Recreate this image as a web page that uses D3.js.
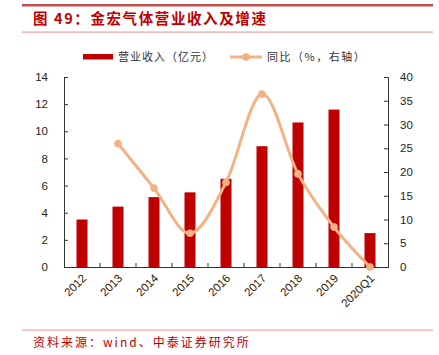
<!DOCTYPE html>
<html><head><meta charset="utf-8">
<script src="https://cdn.jsdelivr.net/npm/d3@7"></script>
<style>body{margin:0;background:#fff}svg{display:block}</style>
</head><body>
<script>
const categories = ["2012","2013","2014","2015","2016","2017","2018","2019","2020Q1"];
const revenue = [3.5, 4.45, 5.15, 5.5, 6.5, 8.9, 10.65, 11.6, 2.5];
const yoy = [null, 26.0, 16.6, 7.1, 17.8, 36.4, 19.6, 8.4, 0.0];
const leftTicks = [0,2,4,6,8,10,12,14];
const rightTicks = [0,5,10,15,20,25,30,35,40];
const title = "图 49：金宏气体营业收入及增速";
const source = "资料来源：wind、中泰证券研究所";
const legendLabels = ["营业收入（亿元）","同比（%，右轴）"];

const W=439,H=355;
const svg=d3.select("body").append("svg").attr("width",W).attr("height",H);
const cjk="'Noto Sans CJK SC','Noto Sans',sans-serif";
const num="'Liberation Sans','DejaVu Sans',sans-serif";
const red="#C00000", peach="#F4B183";

// header
svg.append("rect").attr("x",22).attr("y",4).attr("width",411).attr("height",2.5).attr("fill","#C0504D");
svg.append("text").attr("x",33).attr("y",24).attr("font-family",cjk).attr("font-weight","bold")
  .attr("font-size",14.5).attr("letter-spacing",1.6).attr("fill","#C00000").text(title);
svg.append("rect").attr("x",22).attr("y",31.5).attr("width",411).attr("height",1.2).attr("fill","#E6A3A3");
// footer
svg.append("rect").attr("x",22).attr("y",329.5).attr("width",411).attr("height",1.2).attr("fill","#EBA7A7");
svg.append("text").attr("x",33).attr("y",347).attr("font-family",cjk).attr("letter-spacing",2)
  .attr("font-size",12).attr("fill","#C00000").text(source);

const L=64,R=388,T=77,B=267;
const x=d3.scaleBand().domain(categories).range([L,R]);
const yL=d3.scaleLinear().domain([0,14]).range([B,T]);
const yR=d3.scaleLinear().domain([0,40]).range([B,T]);
const bw=11;

svg.append("g").selectAll("rect").data(categories).join("rect")
  .attr("x",d=>x(d)+x.bandwidth()/2-bw/2).attr("width",bw)
  .attr("y",(d,i)=>yL(revenue[i])).attr("height",(d,i)=>B-yL(revenue[i]))
  .attr("fill",red);

// axes
const axL=svg.append("g").attr("transform",`translate(${L},0)`)
  .call(d3.axisLeft(yL).tickValues(leftTicks).tickSize(-4).tickPadding(16));
const axR=svg.append("g").attr("transform",`translate(${R},0)`)
  .call(d3.axisRight(yR).tickValues(rightTicks).tickSize(-4).tickPadding(12));
const axB=svg.append("g").attr("transform",`translate(0,${B})`)
  .call(d3.axisBottom(x).tickSize(0).tickFormat(""));
// category boundary ticks
svg.append("g").selectAll("line").data(categories.slice(1)).join("line")
  .attr("x1",d=>x(d)).attr("x2",d=>x(d)).attr("y1",B).attr("y2",B-4)
  .attr("stroke","#333").attr("stroke-width",1);
[axL,axR,axB].forEach(a=>{
  a.selectAll("path,line").attr("stroke","#333").attr("stroke-width",1);
  a.selectAll("text").attr("font-family",num).attr("font-size",11.5).attr("fill","#222");
});
// x labels
svg.append("g").selectAll("text").data(categories).join("text")
  .attr("transform",d=>`translate(${x(d)+x.bandwidth()/2+5},${B+12}) rotate(-45)`)
  .attr("text-anchor","end").attr("font-family",num).attr("font-size",11.5).attr("fill","#222")
  .text(d=>d);

// line
const pts=categories.map((c,i)=>({c,v:yoy[i]})).filter(d=>d.v!==null);
const line=d3.line().x(d=>x(d.c)+x.bandwidth()/2).y(d=>yR(d.v)).curve(d3.curveCardinal.tension(0));
svg.append("path").datum(pts).attr("d",line).attr("fill","none").attr("stroke",peach).attr("stroke-width",3);
svg.append("g").selectAll("circle").data(pts).join("circle")
  .attr("cx",d=>x(d.c)+x.bandwidth()/2).attr("cy",d=>yR(d.v)).attr("r",3.8).attr("fill",peach);

// legend
svg.append("rect").attr("x",83).attr("y",54).attr("width",30).attr("height",5.5).attr("fill",red);
svg.append("text").attr("x",118).attr("y",61).attr("font-family",cjk).attr("font-size",11).attr("letter-spacing",1).attr("fill","#333").text(legendLabels[0]);
svg.append("line").attr("x1",230).attr("x2",262).attr("y1",57).attr("y2",57).attr("stroke",peach).attr("stroke-width",3);
svg.append("circle").attr("cx",246).attr("cy",57).attr("r",3.8).attr("fill",peach);
svg.append("text").attr("x",267).attr("y",61).attr("font-family",cjk).attr("font-size",11).attr("letter-spacing",1.5).attr("fill","#333").text(legendLabels[1]);
</script>
</body></html>
